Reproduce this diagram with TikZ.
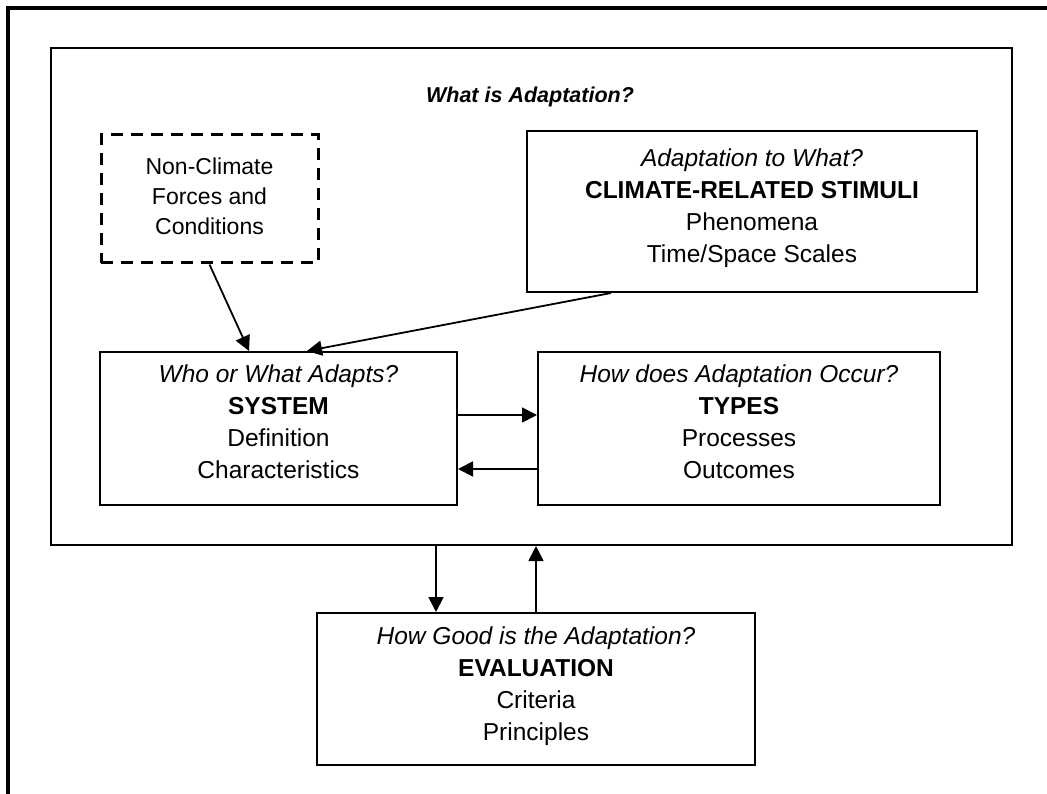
\documentclass[tikz,border=0pt]{standalone}
\usepackage{fontspec}
\setmainfont{Liberation Sans}
\usetikzlibrary{arrows.meta,calc}
\begin{document}
\begin{tikzpicture}[x=1pt,y=-1pt,
  box/.style={draw,line width=2pt,rectangle,inner sep=0pt},
  dashbox/.style={box,dash pattern=on 12pt off 8pt,line width=3pt},
  words/.style={align=center,inner sep=0pt,font=\fontsize{24.5}{32}\selectfont},
  link/.style={line width=1.8pt,-{Triangle[length=15pt,width=15pt]}}]
\useasboundingbox (0,0) rectangle (1047,794);
\fill[white] (0,0) rectangle (1047,794);
% outer frame (only the top and left edges fall inside the page)
\draw[line width=3.5pt] (8,794) -- (8,8) -- (1047,8);

% enclosing box
\node[box,minimum width=961pt,minimum height=497pt] (frame) at (531.5,296.5) {};
\node[font=\fontsize{21.5}{25}\selectfont\bfseries\itshape] (title) at (530,97) {What is Adaptation?};

% boxes
\node[dashbox,minimum width=217pt,minimum height=128pt] (nonclim) at (209.5,199) {};
\node[box,minimum width=450pt,minimum height=161pt] (clim) at (752,211.5) {};
\node[box,minimum width=357pt,minimum height=153pt] (sys) at (278.5,428.5) {};
\node[box,minimum width=402pt,minimum height=153pt] (types) at (739,428.5) {};
\node[box,minimum width=438pt,minimum height=152pt] (eval) at (536,689) {};

% box texts
\node[words,font=\fontsize{23}{30}\selectfont] (nonclimtxt) at ([yshift=3pt]nonclim.center)
  {Non-Climate\\Forces and\\Conditions};
\node[words] (climtxt) at ([yshift=3pt]clim.center)
  {\itshape Adaptation to What?\\\bfseries CLIMATE-RELATED STIMULI\\Phenomena\\Time/Space Scales};
\node[words] (systxt) at ([yshift=6.5pt]sys.center)
  {\itshape Who or What Adapts?\\\bfseries SYSTEM\\Definition\\Characteristics};
\node[words] (typestxt) at ([yshift=6.5pt]types.center)
  {\itshape How does Adaptation Occur?\\\bfseries TYPES\\Processes\\Outcomes};
\node[words] (evaltxt) at ([yshift=3pt]eval.center)
  {\itshape How Good is the Adaptation?\\\bfseries EVALUATION\\Criteria\\Principles};

% connectors
\draw[link] (nonclim.south) -- ($(sys.north west)+(150,0)$);
\draw[link] ($(clim.south west)+(85,0)$) -- ($(sys.north west)+(208,0)$);
\coordinate (s1) at ([yshift=13.5pt]sys.east);
\coordinate (s2) at ([yshift=-40.5pt]sys.east);
\draw[link] (s1) -- (s1 -| types.west);
\draw[link] (s2 -| types.west) -- (s2);
\coordinate (d1) at ($(frame.south west)+(386,0)$);
\coordinate (u1) at ($(frame.south west)+(486,0)$);
\draw[link] (d1) -- (d1 |- eval.north);
\draw[link] (u1 |- eval.north) -- (u1);
\end{tikzpicture}
\end{document}
